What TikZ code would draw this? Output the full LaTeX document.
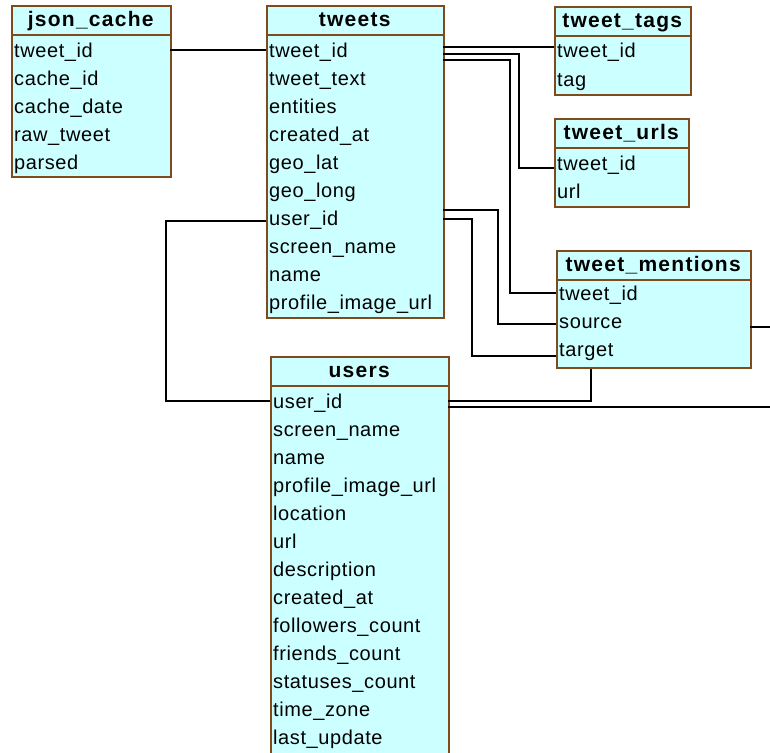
\documentclass[tikz,border=0pt]{standalone}
\usepackage{fontspec}
\setmainfont{Liberation Sans}
\newfontfamily\erdfont{Liberation Sans}[LetterSpace=3]
\newfontfamily\erdhead{Liberation Sans}[LetterSpace=6]
\definecolor{tblfill}{HTML}{CCFFFF}
\definecolor{tbledge}{HTML}{7F4A1C}

\begin{document}
\begin{tikzpicture}[x=1pt,y=-1pt,
    tbl/.style={draw=tbledge,fill=tblfill,line width=2pt,anchor=north west,inner sep=0pt},
    ttl/.style={anchor=north west,inner sep=0pt,minimum height=30pt,text height=16pt,text depth=3pt,
      font=\erdhead\bfseries\fontsize{21}{24}\selectfont},
    rule/.style={draw=tbledge,line width=2pt},
    row/.style={anchor=west,inner xsep=3pt,inner ysep=0pt,minimum height=28pt,text height=17pt,text depth=3pt,
      align=left,font=\erdfont\fontsize{20}{24}\selectfont},
    link/.style={draw=black,line width=2pt}]
  \useasboundingbox (0,0) rectangle (770,752);
  \clip (0,0) rectangle (770,752);
  \fill[white] (0,0) rectangle (770,752);
  \coordinate (rim) at (770,0);

  % json_cache
  \node[tbl,minimum width=159pt,minimum height=171pt] (json) at (11,5) {};
  \node[ttl,minimum width=159pt] (json-t) at (11,5) {json\_cache};
  \draw[rule] (json-t.south west) -- (json-t.south east);
  \foreach \f [count=\i] in {tweet\_id,cache\_id,cache\_date,raw\_tweet,parsed}
    \node[row,text width=153pt] (json-\i) at (11,{22+28*\i}) {\f};

  % tweets
  \node[tbl,minimum width=177pt,minimum height=312pt] (tweets) at (266,5) {};
  \node[ttl,minimum width=177pt] (tweets-t) at (266,5) {tweets};
  \draw[rule] (tweets-t.south west) -- (tweets-t.south east);
  \foreach \f [count=\i] in {tweet\_id,tweet\_text,entities,created\_at,geo\_lat,geo\_long,
      user\_id,screen\_name,name,profile\_image\_url}
    \node[row,text width=171pt] (tweets-\i) at (266,{22+28*\i}) {\f};

  % tweet_tags
  \node[tbl,minimum width=136pt,minimum height=88pt] (tags) at (554,6) {};
  \node[ttl,minimum width=136pt] (tags-t) at (554,6) {tweet\_tags};
  \draw[rule] (tags-t.south west) -- (tags-t.south east);
  \foreach \f [count=\i] in {tweet\_id,tag}
    \node[row,text width=130pt] (tags-\i) at (554,{23+28*\i}) {\f};

  % tweet_urls
  \node[tbl,minimum width=134pt,minimum height=88pt] (urls) at (554,118) {};
  \node[ttl,minimum width=134pt] (urls-t) at (554,118) {tweet\_urls};
  \draw[rule] (urls-t.south west) -- (urls-t.south east);
  \foreach \f [count=\i] in {tweet\_id,url}
    \node[row,text width=128pt] (urls-\i) at (554,{135+28*\i}) {\f};

  % tweet_mentions
  \node[tbl,minimum width=194pt,minimum height=117pt] (ment) at (556,250) {};
  \node[ttl,minimum width=194pt] (ment-t) at (556,250) {tweet\_mentions};
  \draw[rule] (ment-t.south west) -- (ment-t.south east);
  \foreach \f [count=\i] in {tweet\_id,source,target}
    \node[row,text width=188pt] (ment-\i) at (556,{265+28*\i}) {\f};

  % users
  \node[tbl,minimum width=178pt,minimum height=414pt] (users) at (270,356) {};
  \node[ttl,minimum width=178pt] (users-t) at (270,356) {users};
  \draw[rule] (users-t.south west) -- (users-t.south east);
  \foreach \f [count=\i] in {user\_id,screen\_name,name,profile\_image\_url,location,url,description,
      created\_at,followers\_count,friends\_count,statuses\_count,time\_zone,last\_update}
    \node[row,text width=172pt] (users-\i) at (270,{373+28*\i}) {\f};

  % links
  \draw[link] (json-1.east) -- (tweets-1.west);
  \draw[link] ([yshift=3pt]tweets-1.east) coordinate (tw1) -- (tw1 -| tags-1.west);
  \draw[link] ([yshift=-4pt]tweets-1.east) -| ([xshift=-35pt,yshift=-5pt]urls-1.west) -- ([yshift=-5pt]urls-1.west);
  \draw[link] ([yshift=-10pt]tweets-1.east) -| ([xshift=-46pt]ment-1.west) -- (ment-1.west);
  \draw[link] ([yshift=8pt]tweets-7.east) -| ([xshift=-58pt,yshift=-3pt]ment-2.west) -- ([yshift=-3pt]ment-2.west);
  \draw[link] ([yshift=-1pt]tweets-7.east) -| ([xshift=-84pt,yshift=-7pt]ment-3.west) -- ([yshift=-7pt]ment-3.west);
  \draw[link] ([yshift=-3pt]tweets-7.west) -| ([xshift=-104pt]users-1.west) -- (users-1.west);
  \draw[link] (users-1.east) -| ([xshift=35pt]ment.south west);
  \draw[link] ([yshift=-6pt]users-1.east) coordinate (u1) -- (u1 -| rim);
  \draw[link] ([yshift=-6pt]ment-2.east) coordinate (m2) -- (m2 -| rim);
\end{tikzpicture}
\end{document}
